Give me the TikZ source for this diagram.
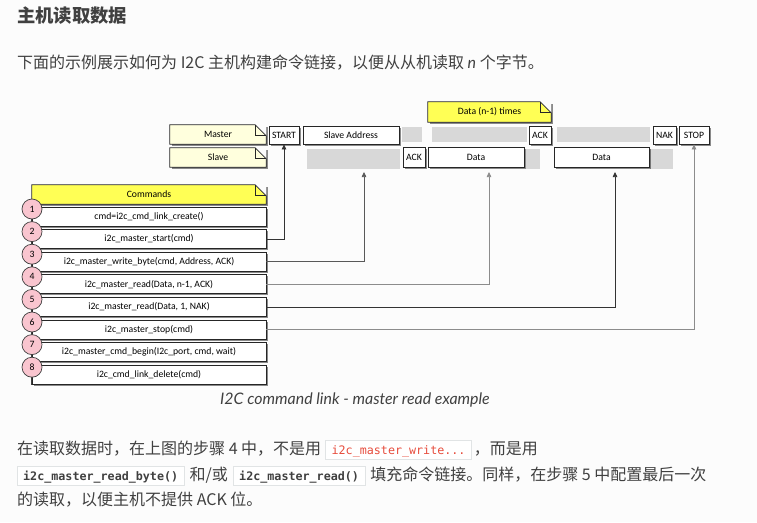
\documentclass[tikz,border=0pt]{standalone}
\usepackage{fontspec}
\setmainfont{Lato}
\newfontfamily\cjk{Noto Sans CJK SC}
\newfontfamily\labelfont{Carlito}
\newfontfamily\codefont{DejaVu Sans Mono}
\usetikzlibrary{shadows,arrows.meta}

\definecolor{pagebg}{HTML}{FCFCFC}
\definecolor{notepale}{HTML}{FFFFDD}
\definecolor{noteyellow}{HTML}{FFFF55}
\definecolor{steppink}{HTML}{F9C5CF}
\definecolor{busgray}{HTML}{D8D8D8}
\definecolor{bodygray}{HTML}{404040}
\definecolor{codered}{HTML}{E74C3C}
\definecolor{codeborder}{HTML}{E1E4E5}

\tikzset{
  diag/.style={font=\labelfont\fontsize{9.7}{11}\selectfont, inner sep=0pt},
  boxshadow/.style={drop shadow={shadow xshift=1.5pt, shadow yshift=-1.5pt, fill=black, opacity=.45}},
  busbox/.style={diag, draw=black!85, fill=white, line width=0.7pt, minimum height=18pt, boxshadow},
  notebox/.style={diag, fill=notepale, minimum height=19pt, boxshadow},
  cmdbox/.style={diag, draw=black!85, fill=white, line width=0.7pt, minimum width=234pt, minimum height=19pt, boxshadow},
  stepnum/.style={diag, circle, draw=black!75, fill=steppink, line width=0.7pt, minimum size=20pt},
  cmdlink/.style={draw=black!80, line width=0.7pt, -{Triangle[length=5pt,width=4.5pt]}},
  cmdlinklight/.style={cmdlink, draw=black!45},
  bodytext/.style={anchor=base west, inner sep=0pt, text=bodygray, font=\cjk\fontsize{16}{20}\selectfont},
  codebox/.style={anchor=base west, draw=codeborder, fill=white, text=bodygray, inner xsep=6pt, inner ysep=3.75pt,
    text height=10pt, text depth=1.5pt, font=\codefont\fontsize{11.7}{14}\selectfont},
}

% outline of a note with its folded corner
\newcommand{\notefold}[1]{%
  \fill[pagebg] ([xshift=-11pt]#1.north east) -- (#1.north east) -- ([yshift=-11pt]#1.north east) -- cycle;
  \draw[black!85, line width=0.7pt] (#1.south west) -- (#1.north west) -- ([xshift=-11pt]#1.north east)
    -- ([yshift=-11pt]#1.north east) -- (#1.south east) -- cycle;
  \draw[black!85, line width=0.7pt] ([xshift=-11pt]#1.north east) -- ([xshift=-11pt,yshift=-11pt]#1.north east)
    -- ([yshift=-11pt]#1.north east);
}

\begin{document}
\begin{tikzpicture}[x=1pt,y=-1pt]
  \fill[pagebg] (0,0) rectangle (757,522);
  \useasboundingbox (0,0) rectangle (757,522);

  % idle parts of the bus
  \fill[busgray] (402,127) rectangle (422,142);
  \fill[busgray] (432,127) rectangle (527,142);
  \fill[busgray] (557,127) rectangle (650,142);
  \fill[busgray] (307,149) rectangle (400,169);
  \fill[busgray] (526,149) rectangle (540,169);
  \fill[busgray] (650,149) rectangle (673,169);

  % notes
  \node[notebox, minimum width=96pt] (master) at (218,134.5) {Master};
  \notefold{master}
  \node[notebox, minimum width=96pt] (slave) at (218,157.5) {Slave};
  \notefold{slave}
  \node[notebox, fill=noteyellow, minimum width=123pt, minimum height=20pt] (times) at (489.5,112) {Data (n-1) times};
  \notefold{times}
  \node[notebox, fill=noteyellow, minimum width=234pt] (commands) at (149,194.5) {Commands};
  \notefold{commands}

  % bus
  \node[busbox, minimum width=30pt] (start) at (284,135) {START};
  \node[busbox, minimum width=96pt] (address) at (351,135) {Slave Address};
  \node[busbox, minimum width=22pt] (ackm) at (540,135) {ACK};
  \node[busbox, minimum width=23pt] (nak) at (664.5,135) {NAK};
  \node[busbox, minimum width=30pt] (stop) at (694,135) {STOP};
  \node[busbox, minimum width=22pt, minimum height=20pt] (acks) at (414,157) {ACK};
  \node[busbox, minimum width=96pt, minimum height=20pt] (data1) at (476,157) {Data};
  \node[busbox, minimum width=95pt, minimum height=20pt] (data2) at (601.5,157) {Data};

  % commands
  \node[cmdbox] (cmd1) at (149,216.5) {cmd=i2c\_cmd\_link\_create()};
  \node[cmdbox] (cmd2) at (149,239.1) {i2c\_master\_start(cmd)};
  \node[cmdbox] (cmd3) at (149,261.7) {i2c\_master\_write\_byte(cmd, Address, ACK)};
  \node[cmdbox] (cmd4) at (149,284.3) {i2c\_master\_read(Data, n-1, ACK)};
  \node[cmdbox] (cmd5) at (149,306.9) {i2c\_master\_read(Data, 1, NAK)};
  \node[cmdbox] (cmd6) at (149,329.5) {i2c\_master\_stop(cmd)};
  \node[cmdbox] (cmd7) at (149,352.1) {i2c\_master\_cmd\_begin(I2c\_port, cmd, wait)};
  \node[cmdbox] (cmd8) at (149,374.7) {i2c\_cmd\_link\_delete(cmd)};

  \draw[black!75, line width=0.7pt] (cmd1.north west) -- (cmd8.south west);
  \node[stepnum] (step1) at (32,209) {1};
  \node[stepnum] (step2) at (32,231.6) {2};
  \node[stepnum] (step3) at (32,254.2) {3};
  \node[stepnum] (step4) at (32,276.8) {4};
  \node[stepnum] (step5) at (32,299.4) {5};
  \node[stepnum] (step6) at (32,322) {6};
  \node[stepnum] (step7) at (32,344.6) {7};
  \node[stepnum] (step8) at (32,367.2) {8};

  % links to the bus
  \coordinate (addressin) at (364,172);
  \coordinate (data1in) at (489,172);
  \coordinate (data2in) at (615,172);
  \draw[cmdlink] (cmd2.east) -| (start.south);
  \draw[cmdlink, draw=black!65] (cmd3.east) -| (addressin);
  \draw[cmdlinklight] (cmd4.east) -| (data1in);
  \draw[cmdlink] (cmd5.east) -| (data2in);
  \draw[cmdlinklight] (cmd6.east) -| (stop.south);

  % page text
  \node[bodytext, font=\cjk\bfseries\fontsize{18.3}{22}\selectfont] (title) at (17,22) {主机读取数据};
  \node[bodytext] (intro) at (17,68) {下面的示例展示如何为 I2C 主机构建命令链接，以便从从机读取 {\rmfamily\itshape n} 个字节。};
  \node[anchor=base, inner sep=0pt, text=bodygray, font=\itshape\fontsize{15.9}{18}\selectfont] (caption) at (355,404) {I2C command link - master read example};

  \node[bodytext] (remark1a) at (17,454) {在读取数据时，在上图的步骤 4 中，不是用};
  \node[codebox, text=codered] (remark1b) at ([xshift=4pt]remark1a.base east) {i2c\_master\_write...};
  \node[bodytext] (remark1c) at ([xshift=2pt]remark1b.base east) {，而是用};
  \node[codebox, font=\codefont\bfseries\fontsize{11.7}{14}\selectfont] (remark2a) at (17,480) {i2c\_master\_read\_byte()};
  \node[bodytext] (remark2b) at ([xshift=5pt]remark2a.base east) {和/或};
  \node[codebox, font=\codefont\bfseries\fontsize{11.7}{14}\selectfont] (remark2c) at ([xshift=5pt]remark2b.base east) {i2c\_master\_read()};
  \node[bodytext] (remark2d) at ([xshift=5pt]remark2c.base east) {填充命令链接。同样，在步骤 5 中配置最后一次};
  \node[bodytext] (remark3) at (17,505) {的读取，以便主机不提供 ACK 位。};
\end{tikzpicture}
\end{document}
